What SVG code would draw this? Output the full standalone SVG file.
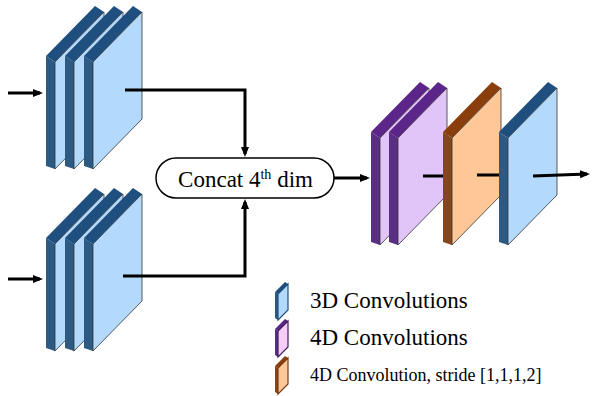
<svg xmlns="http://www.w3.org/2000/svg" width="608" height="396" viewBox="0 0 608 396">
<style>
  .txt { font-family: "Liberation Serif", "Times New Roman", serif; fill: #000; }
  .conn { fill: none; stroke: #000; stroke-width: 3; }
  .b-strip { fill: #2c5a82; } .b-band { fill: #1f4f7f; } .b-front { fill: #b3d9fc; stroke: #333; stroke-width: 0.8; }
  .p-strip { fill: #5a2e82; } .p-band { fill: #5c2589; } .p-front { fill: #e1c4f8; stroke: #333; stroke-width: 0.8; }
  .o-strip { fill: #84461c; } .o-band { fill: #8a3e0b; } .o-front { fill: #fec797; stroke: #333; stroke-width: 0.8; }
  .pill { fill: #fff; stroke: #000; stroke-width: 1.5; }
</style>
<defs>
  <marker id="arr" markerUnits="userSpaceOnUse" markerWidth="12" markerHeight="10" refX="7" refY="4" orient="auto">
    <path d="M0,0 L10,4 L0,8 z" fill="#000"/>
  </marker>
  <g id="slabB">
    <polygon class="b-strip" points="0,-6 9,0 9,107 0,104"/>
    <polygon class="b-band" points="0,-6 49,-56 58,-50 9,0"/>
    <polygon class="b-front" points="9,0 58,-50 58,57 9,107"/>
  </g>
  <g id="slabP">
    <polygon class="p-strip" points="0,-6 9,0 9,107 0,104"/>
    <polygon class="p-band" points="0,-6 49,-56 58,-50 9,0"/>
    <polygon class="p-front" points="9,0 58,-50 58,57 9,107"/>
  </g>
  <g id="slabO">
    <polygon class="o-strip" points="0,-6 9,0 9,107 0,104"/>
    <polygon class="o-band" points="0,-6 49,-56 58,-50 9,0"/>
    <polygon class="o-front" points="9,0 58,-50 58,57 9,107"/>
  </g>
</defs>
<rect width="608" height="396" fill="#fff"/>

<g id="conv3d-top">
  <use href="#slabB" x="46" y="62"/>
  <use href="#slabB" x="65" y="62"/>
  <use href="#slabB" x="84" y="62"/>
</g>
<g id="conv3d-bottom">
  <use href="#slabB" x="46" y="244"/>
  <use href="#slabB" x="65" y="244"/>
  <use href="#slabB" x="84" y="244"/>
</g>
<g id="concat">
  <rect class="pill" x="156" y="158" width="178" height="40" rx="20" ry="20"/>
  <text class="txt" x="245.5" y="187" font-size="23" text-anchor="middle">Concat 4<tspan font-size="14" dy="-8">th</tspan><tspan dy="8"> dim</tspan></text>
</g>
<g id="conv4d">
  <use href="#slabP" x="371" y="138"/>
  <use href="#slabP" x="389" y="138"/>
</g>
<g id="conv4d-stride">
  <use href="#slabO" x="443" y="138"/>
</g>
<g id="conv3d-out">
  <use href="#slabB" x="499" y="138"/>
</g>

<g id="connectors">
  <path class="conn" d="M8,93 H40" marker-end="url(#arr)"/>
  <path class="conn" d="M8,279 H40" marker-end="url(#arr)"/>
  <path class="conn" d="M125,90 H245 V154" marker-end="url(#arr)"/>
  <path class="conn" d="M123,276 H245 V202" marker-end="url(#arr)"/>
  <path class="conn" d="M334,178 H367" marker-end="url(#arr)"/>
  <path class="conn" d="M423,176 H443"/>
  <path class="conn" d="M477,175 H499"/>
  <path class="conn" d="M533,176 L587,174" marker-end="url(#arr)"/>
</g>

<g id="legend">
  <g id="legend-3d">
    <polygon class="b-strip" points="275,292 278,294 278,320 275,318"/>
    <polygon class="b-band" points="275,292 285,282 288,284 278,294"/>
    <polygon fill="#b3d9fc" stroke="#1f4f7f" stroke-width="1.2" points="278,294 288,284 288,310 278,320"/>
    <text class="txt" x="310" y="308" font-size="23">3D Convolutions</text>
  </g>
  <g id="legend-4d">
    <polygon class="p-strip" points="275,329 278,331 278,357 275,355"/>
    <polygon class="p-band" points="275,329 285,319 288,321 278,331"/>
    <polygon fill="#f6ccf8" stroke="#3e1f5e" stroke-width="1.2" points="278,331 288,321 288,347 278,357"/>
    <text class="txt" x="310" y="345" font-size="23">4D Convolutions</text>
  </g>
  <g id="legend-4d-stride">
    <polygon class="o-strip" points="275,366 278,368 278,394 275,392"/>
    <polygon class="o-band" points="275,366 285,356 288,358 278,368"/>
    <polygon fill="#fec797" stroke="#7a3a0e" stroke-width="1.2" points="278,368 288,358 288,384 278,394"/>
    <text class="txt" x="310" y="381" font-size="18">4D Convolution, stride [1,1,1,2]</text>
  </g>
</g>
</svg>
